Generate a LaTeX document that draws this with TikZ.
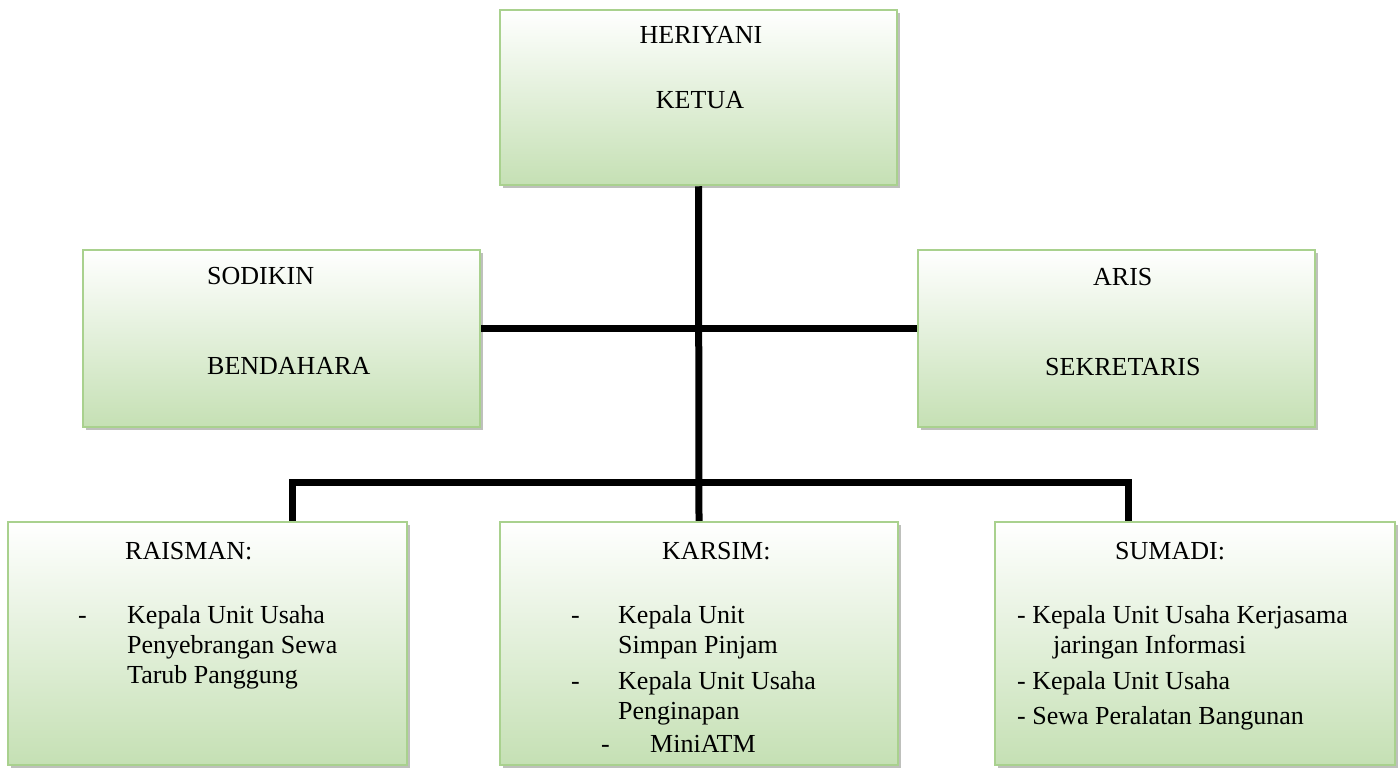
\documentclass[tikz,border=0pt]{standalone}
\usepackage{fontspec}
\setmainfont{Liberation Serif}
\usepackage{tikz}
\usetikzlibrary{positioning}
\usetikzlibrary{shadows}
\usetikzlibrary{calc}
\definecolor{boxgreen}{RGB}{197,224,180}
\definecolor{boxline}{RGB}{169,209,142}
\definecolor{shadowgray}{RGB}{190,192,188}
\tikzstyle{unit} = [draw = boxline, line width = 2.5pt, rectangle, top color = white, bottom color = boxgreen, drop shadow = {shadow xshift = 3pt, shadow yshift = -3pt, fill = shadowgray, opacity = 1}]
\tikzstyle{txt} = [inner sep = 0pt, anchor = base west, font = \fontsize{26}{30}\selectfont]
\tikzstyle{link} = [line width = 7pt]

\begin{document}
\begin{tikzpicture}[x = 1pt, y = -1pt]
	
		\useasboundingbox (0,0) rectangle (1399,768);
		
		% Ketua
		\node[unit, minimum width = 397pt, minimum height = 175pt] (ketua) at (698.5,97.5) {};
		\node[txt, anchor = base] (heriyani) at (701,44) {HERIYANI};
		\node[txt, anchor = base] (ketuaT) at (700,108) {KETUA};
		
		% Bendahara and sekretaris
		\node[unit, minimum width = 397pt, minimum height = 177pt] (bendahara) at (281.5,338.5) {};
		\node[txt] (sodikin) at (207,284) {SODIKIN};
		\node[txt] (bendaharaT) at (207,374) {BENDAHARA};
		
		\node[unit, minimum width = 397pt, minimum height = 177pt] (sekretaris) at (1116.5,338.5) {};
		\node[txt] (aris) at (1093,285) {ARIS};
		\node[txt] (sekretarisT) at (1045,375) {SEKRETARIS};
		
		% Unit usaha
		\node[unit, minimum width = 399pt, minimum height = 243pt] (raisman) at (207.5,643.5) {};
		\node[txt] (r0) at (125,559) {RAISMAN:};
		\node[txt] (r1d) at (78,623) {-};
		\node[txt] (r1) at (127,623) {Kepala Unit Usaha};
		\node[txt] (r2) at (127,653) {Penyebrangan Sewa};
		\node[txt] (r3) at (127,683) {Tarub Panggung};
		
		\node[unit, minimum width = 398pt, minimum height = 243pt] (karsim) at (699,643.5) {};
		\node[txt] (k0) at (662,559) {KARSIM:};
		\node[txt] (k1d) at (571,623) {-};
		\node[txt] (k1) at (618,623) {Kepala Unit};
		\node[txt] (k2) at (618,653) {Simpan Pinjam};
		\node[txt] (k3d) at (571,689) {-};
		\node[txt] (k3) at (618,689) {Kepala Unit Usaha};
		\node[txt] (k4) at (618,719) {Penginapan};
		\node[txt] (k5d) at (601,752) {-};
		\node[txt] (k5) at (650,752) {MiniATM};
		
		\node[unit, minimum width = 400pt, minimum height = 243pt] (sumadi) at (1195,643.5) {};
		\node[txt] (s0) at (1115,559) {SUMADI:};
		\node[txt] (s1) at (1017,623) {- Kepala Unit Usaha Kerjasama};
		\node[txt] (s2) at (1053,653) {jaringan Informasi};
		\node[txt] (s3) at (1017,689) {- Kepala Unit Usaha};
		\node[txt] (s4) at (1017,724) {- Sewa Peralatan Bangunan};
		
		% Connect all boxes
		\coordinate (mid) at (698,328);
		\coordinate (busL) at (292,482);
		\coordinate (busR) at (1128,482);
		\draw[link] (ketua.south) -- (karsim.north);
		\draw[link] (bendahara.east |- mid) -- (sekretaris.west |- mid);
		\draw[link] (busL |- raisman.north) -- (busL) -- (busR) -- (busR |- sumadi.north);
	
	\end{tikzpicture}
\end{document}
